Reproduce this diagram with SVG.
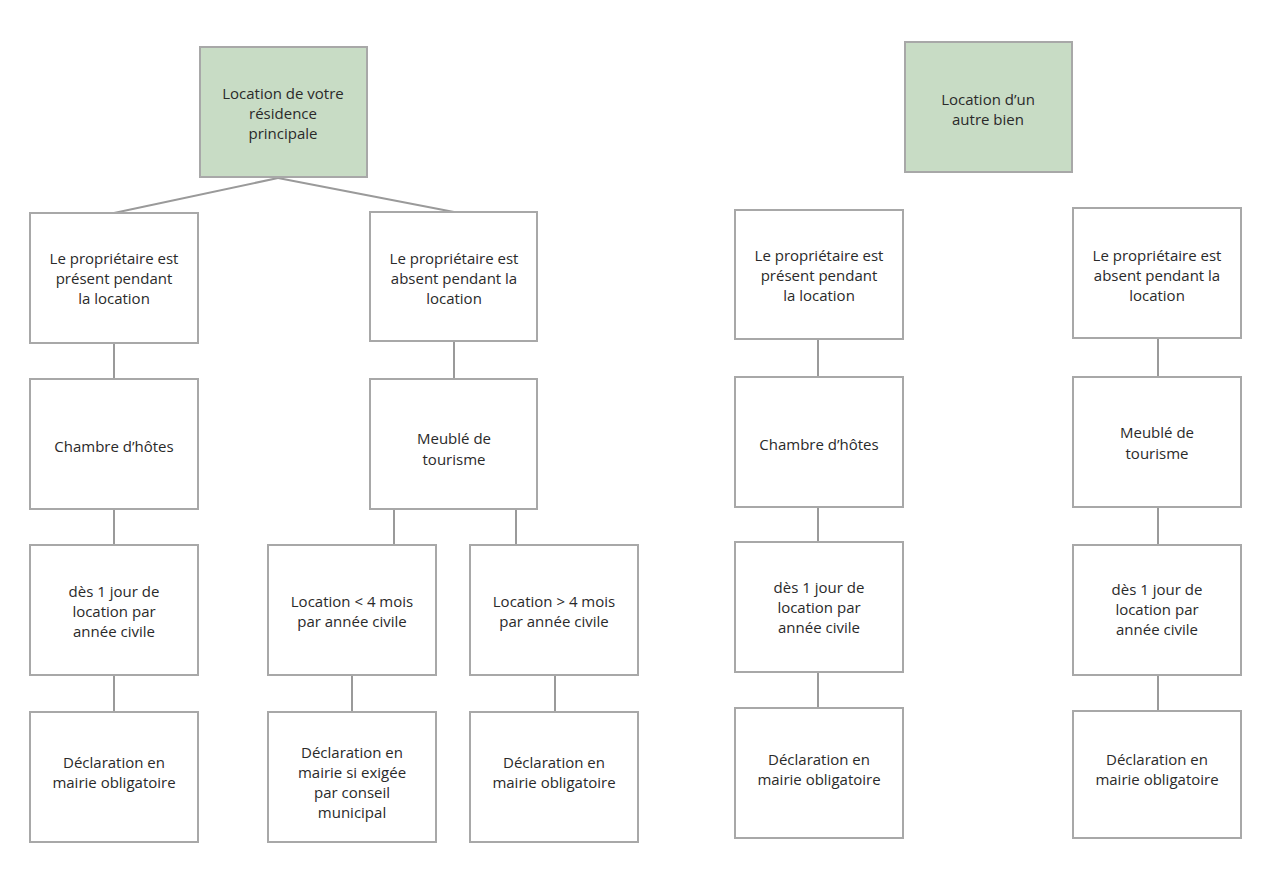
<svg xmlns="http://www.w3.org/2000/svg" width="1280" height="889" viewBox="0 0 1280 889">
<style>
.b{fill:#fff;stroke:#a8a8a8;stroke-width:2}
.g{fill:#c8dcc5;stroke:#a8a8a8;stroke-width:2}
text{font-family:"Open Sans","Liberation Sans",sans-serif;font-size:15px;fill:#2a2a2a;text-anchor:middle}
.c line{stroke:#9a9a9a;stroke-width:2}
</style>
<rect width="1280" height="889" fill="#fff"/>
<g class="c">
<line x1="278" y1="178" x2="114" y2="213"/><line x1="278" y1="178" x2="454" y2="212"/>
<line x1="114" y1="343" x2="114" y2="379"/><line x1="114" y1="509" x2="114" y2="545"/><line x1="114" y1="675" x2="114" y2="712"/>
<line x1="454" y1="341" x2="454" y2="379"/><line x1="394" y1="509" x2="394" y2="545"/><line x1="516" y1="509" x2="516" y2="545"/>
<line x1="352" y1="675" x2="352" y2="712"/><line x1="555" y1="675" x2="555" y2="712"/>
<line x1="818" y1="339" x2="818" y2="377"/><line x1="818" y1="507" x2="818" y2="542"/><line x1="818" y1="672" x2="818" y2="708"/>
<line x1="1158" y1="338" x2="1158" y2="377"/><line x1="1158" y1="507" x2="1158" y2="545"/><line x1="1158" y1="675" x2="1158" y2="711"/>
</g>
<g id="n1"><rect class="g" x="200" y="47" width="167" height="130"/><text x="283" y="99">Location de votre</text><text x="283" y="119">résidence</text><text x="283" y="139">principale</text></g>
<g id="n2"><rect class="b" x="30" y="213" width="168" height="130"/><text x="114" y="264">Le propriétaire est</text><text x="114" y="284">présent pendant</text><text x="114" y="304">la location</text></g>
<g id="n3"><rect class="b" x="370" y="212" width="167" height="129"/><text x="454" y="264">Le propriétaire est</text><text x="454" y="284">absent pendant la</text><text x="454" y="304">location</text></g>
<g id="n4"><rect class="b" x="30" y="379" width="168" height="130"/><text x="114" y="452">Chambre d’hôtes</text></g>
<g id="n5"><rect class="b" x="370" y="379" width="167" height="130"/><text x="454" y="444">Meublé de</text><text x="454" y="465">tourisme</text></g>
<g id="n6"><rect class="b" x="30" y="545" width="168" height="130"/><text x="114" y="597">dès 1 jour de</text><text x="114" y="617">location par</text><text x="114" y="637">année civile</text></g>
<g id="n7"><rect class="b" x="268" y="545" width="168" height="130"/><text x="352" y="607">Location &lt; 4 mois</text><text x="352" y="627">par année civile</text></g>
<g id="n8"><rect class="b" x="470" y="545" width="168" height="130"/><text x="554" y="607">Location &gt; 4 mois</text><text x="554" y="627">par année civile</text></g>
<g id="n9"><rect class="b" x="30" y="712" width="168" height="130"/><text x="114" y="768">Déclaration en</text><text x="114" y="788">mairie obligatoire</text></g>
<g id="n10"><rect class="b" x="268" y="712" width="168" height="130"/><text x="352" y="758">Déclaration en</text><text x="352" y="778">mairie si exigée</text><text x="352" y="798">par conseil</text><text x="352" y="818">municipal</text></g>
<g id="n11"><rect class="b" x="470" y="712" width="168" height="130"/><text x="554" y="768">Déclaration en</text><text x="554" y="788">mairie obligatoire</text></g>
<g id="n12"><rect class="g" x="905" y="42" width="167" height="130"/><text x="988" y="105">Location d’un</text><text x="988" y="125">autre bien</text></g>
<g id="n13"><rect class="b" x="735" y="210" width="168" height="129"/><text x="819" y="261">Le propriétaire est</text><text x="819" y="281">présent pendant</text><text x="819" y="301">la location</text></g>
<g id="n14"><rect class="b" x="1073" y="208" width="168" height="130"/><text x="1157" y="261">Le propriétaire est</text><text x="1157" y="281">absent pendant la</text><text x="1157" y="301">location</text></g>
<g id="n15"><rect class="b" x="735" y="377" width="168" height="130"/><text x="819" y="450">Chambre d’hôtes</text></g>
<g id="n16"><rect class="b" x="1073" y="377" width="168" height="130"/><text x="1157" y="438">Meublé de</text><text x="1157" y="459">tourisme</text></g>
<g id="n17"><rect class="b" x="735" y="542" width="168" height="130"/><text x="819" y="593">dès 1 jour de</text><text x="819" y="613">location par</text><text x="819" y="633">année civile</text></g>
<g id="n18"><rect class="b" x="1073" y="545" width="168" height="130"/><text x="1157" y="595">dès 1 jour de</text><text x="1157" y="615">location par</text><text x="1157" y="635">année civile</text></g>
<g id="n19"><rect class="b" x="735" y="708" width="168" height="130"/><text x="819" y="765">Déclaration en</text><text x="819" y="785">mairie obligatoire</text></g>
<g id="n20"><rect class="b" x="1073" y="711" width="168" height="127"/><text x="1157" y="765">Déclaration en</text><text x="1157" y="785">mairie obligatoire</text></g>
</svg>
